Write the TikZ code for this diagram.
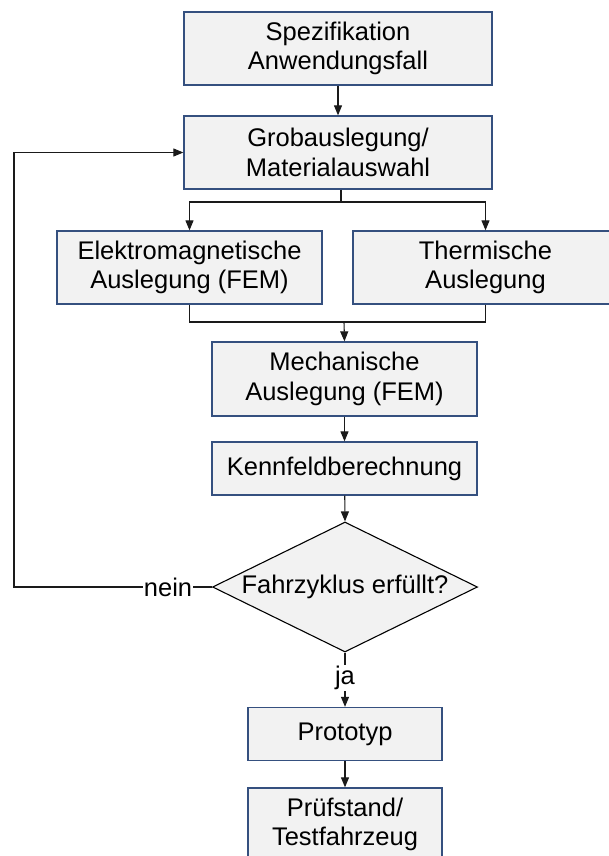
\documentclass[tikz,border=0pt]{standalone}
\usepackage{fontspec}
\setmainfont{Liberation Sans}
\usetikzlibrary{arrows.meta,shapes.geometric}
\definecolor{boxborder}{HTML}{35507F}
\definecolor{boxfill}{HTML}{F2F2F2}
\definecolor{linecol}{HTML}{1A1A1A}
\tikzset{
  stepbox/.style={draw=boxborder, fill=boxfill, line width=1.3pt, inner sep=0pt,
    align=center, font=\fontsize{25.5}{29.5}\selectfont},
  decision/.style={draw=black, fill=boxfill, line width=1.1pt, shape=diamond,
    aspect=2.03, inner sep=0pt, minimum width=265pt, minimum height=130pt,
    font=\fontsize{25.5}{29.5}\selectfont},
  lbl/.style={inner sep=1pt, font=\fontsize{25.5}{29.5}\selectfont},
  conn/.style={draw=linecol, line width=1.1pt},
  arr/.style={conn, -{Triangle[length=10pt,width=8pt]}},
}
\begin{document}
\begin{tikzpicture}[x=1pt,y=-1pt]
  \useasboundingbox (0,0) rectangle (608,856);

  % process steps
  \node[stepbox, minimum width=308pt, minimum height=73pt] (spec) at (338,48.5) {Spezifikation\\Anwendungsfall};
  \node[stepbox, minimum width=308pt, minimum height=73pt] (grob) at (338,152.5) {Grobauslegung/\\Materialauswahl};
  \node[stepbox, minimum width=265pt, minimum height=73pt] (em) at (189.5,267.5) {Elektromagnetische\\Auslegung (FEM)};
  \node[stepbox, minimum width=265pt, minimum height=73pt] (therm) at (485.5,267.5) {Thermische\\Auslegung};
  \node[stepbox, minimum width=265pt, minimum height=74pt] (mech) at (344.5,379) {Mechanische\\Auslegung (FEM)};
  \node[stepbox, minimum width=265pt, minimum height=53pt] (kenn) at (344.5,468.5) {Kennfeldberechnung};
  \node[decision] (zyk) at (345,587) {Fahrzyklus erfüllt?};
  \node[stepbox, minimum width=194pt, minimum height=53pt] (proto) at (345,734) {Prototyp};
  \node[stepbox, minimum width=194pt, minimum height=73pt] (pruef) at (345,824.5) {Prüfstand/\\Testfahrzeug};

  % branch labels
  \node[lbl] (nein) at (168,587) {nein};
  \node[lbl] (ja) at (345,678) {ja};

  % helper points
  \coordinate (split) at (341,202);
  \coordinate (merge) at (344,322);
  \coordinate (back) at (14,587);

  % connectors
  \draw[arr] (spec) -- (grob);
  \draw[conn] (split |- grob.south) -- (split);
  \draw[arr] (split) -| (em.north);
  \draw[arr] (split) -| (therm.north);
  \draw[conn] (em.south) |- (merge);
  \draw[conn] (therm.south) |- (merge);
  \draw[arr] (merge) -- (mech.north);
  \draw[arr] (mech) -- (kenn);
  \draw[arr] (kenn) -- (zyk.north);
  \draw[conn] (zyk.west) -- (nein.east);
  \draw[arr] (nein.west) -- (back) |- (grob.west);
  \draw[conn] (zyk.south) -- (ja.north);
  \draw[arr] (ja.south) -- (proto.north);
  \draw[arr] (proto) -- (pruef);
\end{tikzpicture}
\end{document}
